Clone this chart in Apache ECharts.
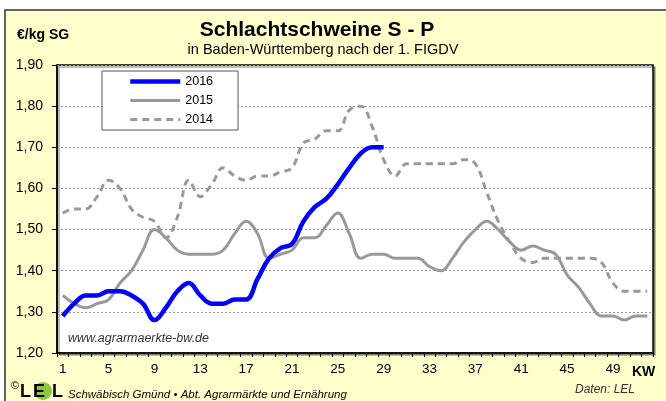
<!DOCTYPE html>
<html>
<head>
<meta charset="utf-8">
<script src="https://cdn.jsdelivr.net/npm/echarts@6/dist/echarts.min.js"></script>
<style>
html,body{margin:0;padding:0;background:#fff;}
#chart{width:666px;height:401px;}
</style>
</head>
<body>
<div id="chart"></div>
<script>
// Kalenderwochen 1..52
var weeks = [];
for (var i = 1; i <= 52; i++) weeks.push(String(i));

var seriesNames = ['2016', '2015', '2014'];

var values2016 = [1.29,1.32,1.34,1.34,1.35,1.35,1.34,1.32,1.28,1.31,1.35,1.37,1.34,1.32,1.32,1.33,1.33,1.38,1.43,1.455,1.465,1.52,1.555,1.575,1.61,1.65,1.685,1.70,1.70];

var values2015 = [1.34,1.32,1.31,1.32,1.33,1.37,1.40,1.45,1.50,1.48,1.45,1.44,1.44,1.44,1.45,1.49,1.52,1.49,1.43,1.44,1.45,1.48,1.48,1.51,1.54,1.49,1.43,1.44,1.44,1.43,1.43,1.43,1.41,1.40,1.43,1.47,1.50,1.52,1.50,1.47,1.45,1.46,1.45,1.44,1.39,1.36,1.32,1.29,1.29,1.28,1.29,1.29];

var values2014 = [1.54,1.55,1.55,1.58,1.62,1.60,1.55,1.53,1.52,1.48,1.53,1.62,1.58,1.61,1.65,1.63,1.62,1.63,1.63,1.64,1.65,1.71,1.72,1.74,1.74,1.79,1.80,1.75,1.67,1.63,1.66,1.66,1.66,1.66,1.66,1.67,1.66,1.59,1.52,1.47,1.43,1.42,1.43,1.43,1.43,1.43,1.43,1.42,1.37,1.35,1.35,1.35];

var yTicks = ['1,20','1,30','1,40','1,50','1,60','1,70','1,80','1,90'];

var FONT = 'Liberation Sans, Arial, sans-serif';
var chart = echarts.init(document.getElementById('chart'), null, {renderer: 'canvas'});

function txt(x, y, text, font, fill, align) {
  return {type: 'text', x: x, y: y, z: 10, silent: true,
    style: {text: text, font: font, fill: fill || '#000', align: align || 'left', verticalAlign: 'middle'}};
}

var option = {
  animation: false,
  backgroundColor: '#ffffff',
  textStyle: {fontFamily: FONT},
  graphic: [
    {type: 'rect', z: -10, silent: true,
     shape: {x: 5, y: 10, width: 700, height: 420},
     style: {fill: '#FFFFCC', stroke: '#333333', lineWidth: 1.5}},
    txt(17, 35, '€/kg SG', 'bold 14px ' + FONT),
    txt(317, 30, 'Schlachtschweine S - P', 'bold 21px ' + FONT, '#000', 'center'),
    txt(323, 50, 'in Baden-Württemberg nach der 1. FIGDV', '14.5px ' + FONT, '#000', 'center'),
    txt(68, 339, 'www.agrarmaerkte-bw.de', 'italic 12.5px ' + FONT, '#333'),
    txt(632, 372, 'KW', 'bold 14px ' + FONT),
    txt(575, 390, 'Daten: LEL', 'italic 12px ' + FONT, '#333'),
    txt(11, 386, '©', '11px ' + FONT),
    {type: 'circle', z: 9, silent: true, shape: {cx: 43, cy: 391, r: 9}, style: {fill: '#8DC63F'}},
    txt(20, 392, 'L', 'bold 18px ' + FONT),
    txt(33, 392, 'E', 'bold 18px ' + FONT),
    txt(52, 392, 'L', 'bold 18px ' + FONT),
    txt(68, 395, 'Schwäbisch Gmünd • Abt. Agrarmärkte und Ernährung', 'italic 11.5px ' + FONT)
  ],
  grid: {
    left: 57, right: 13, top: 65, bottom: 48,
    show: true, backgroundColor: '#ffffff', borderColor: '#000', borderWidth: 1.5,
    shadowColor: 'rgba(0,0,0,0.35)', shadowBlur: 0, shadowOffsetX: 2, shadowOffsetY: 2
  },
  legend: {
    data: seriesNames,
    orient: 'vertical',
    left: 102, top: 71,
    itemWidth: 50, itemHeight: 14, itemGap: 6,
    padding: [4, 25, 4, 26],
    borderColor: '#555', borderWidth: 1,
    backgroundColor: '#fff',
    itemStyle: {opacity: 0},
    lineStyle: {width: 'inherit'},
    textStyle: {fontSize: 12.5, color: '#000', fontFamily: FONT},
    selectedMode: false
  },
  xAxis: {
    type: 'category',
    data: weeks,
    boundaryGap: true,
    axisLine: {lineStyle: {color: '#000', width: 1.5}},
    axisTick: {show: true, interval: 0, length: 4, lineStyle: {color: '#000'}},
    axisLabel: {interval: 3, color: '#000', fontSize: 13.5, margin: 9, fontFamily: FONT},
    splitLine: {show: false}
  },
  yAxis: {
    type: 'value',
    min: 1.2, max: 1.9, interval: 0.1,
    axisLine: {show: true, lineStyle: {color: '#000', width: 1.5}},
    axisTick: {show: true, length: 5, lineStyle: {color: '#000'}},
    axisLabel: {
      color: '#000', fontSize: 14, margin: 14, fontFamily: FONT,
      formatter: function (v) { return yTicks[Math.round((v - 1.2) * 10)]; }
    },
    splitLine: {show: true, lineStyle: {color: '#999', type: [2, 2], width: 1}}
  },
  series: [
    {name: '2016', type: 'line', data: values2016, smooth: 0.4, showSymbol: false, symbol: 'none', z: 5,
     lineStyle: {color: '#0000FF', width: 4.5}, itemStyle: {color: '#0000FF'}},
    {name: '2015', type: 'line', data: values2015, smooth: 0.4, showSymbol: false, symbol: 'none', z: 4,
     lineStyle: {color: '#999999', width: 3}, itemStyle: {color: '#999999'}},
    {name: '2014', type: 'line', data: values2014, smooth: 0.4, showSymbol: false, symbol: 'none', z: 3,
     lineStyle: {color: '#999999', width: 3, type: [7, 5]}, itemStyle: {color: '#999999'}}
  ]
};
chart.setOption(option);
</script>
</body>
</html>
